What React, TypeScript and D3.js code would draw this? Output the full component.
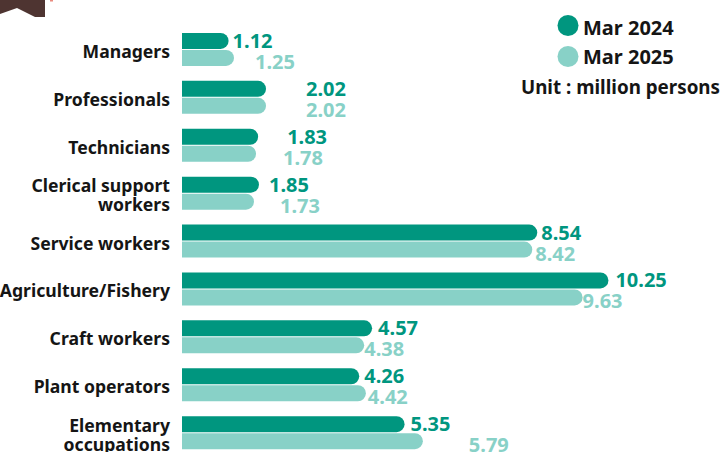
import React from "react";
import * as d3 from "d3";

const categories: string[][] = [
  ["Managers"],
  ["Professionals"],
  ["Technicians"],
  ["Clerical support", "workers"],
  ["Service workers"],
  ["Agriculture/Fishery"],
  ["Craft workers"],
  ["Plant operators"],
  ["Elementary", "occupations"],
];
const mar2024: number[] = [1.12, 2.02, 1.83, 1.85, 8.54, 10.25, 4.57, 4.26, 5.35];
const mar2025: number[] = [1.25, 2.02, 1.78, 1.73, 8.42, 9.63, 4.38, 4.42, 5.79];
const seriesNames: string[] = ["Mar 2024", "Mar 2025"];
const unitLabel = "Unit : million persons";

// label nudges (px right of bar end), as placed in the original
const nudge2024: number[] = [4, 40, 29, 10, 4, 7, 6, 5, 6];
const nudge2025: number[] = [21, 40, 27, 26, 3, 0, 0, 2, 46];

const W = 726;
const H = 452;
const DARK = "#00967f";
const LIGHT = "#88d1c7";
const TEXT = "#151515";
const FONT = "'Noto Sans', 'Lato', sans-serif";
const BAR_H = 16;

function barPath(x0: number, x1: number, y: number, h: number) {
  const r = Math.min(h / 2, Math.max(0, x1 - x0));
  return `M${x0},${y}H${x1 - r}A${r},${r} 0 0 1 ${x1},${y + r}V${y + h - r}A${r},${r} 0 0 1 ${x1 - r},${y + h}H${x0}Z`;
}

export default function App() {
  const x = d3.scaleLinear().domain([0, 13]).range([182, 182 + 41.6 * 13]);
  const keys = categories.map((c) => c.join(" "));
  const y = d3.scaleBand<string>().domain(keys).range([25.5, 25.5 + 47.9 * 9]).padding(0);

  return (
    <svg
      width={W}
      height={H}
      style={{ position: "absolute", left: 0, top: 0, background: "#fff" }}
      fontFamily={FONT}
    >
      <path d="M0,0H45V17H35L17,8L0,14Z" fill="#4e3431" />
      <rect x={50} y={0} width={3} height={1.5} fill="#e98a7e" />

      {keys.map((k, i) => {
        const c = (y(k) as number) + y.bandwidth() / 2;
        const topD = c - BAR_H - 0.5;
        const topL = c + 0.5;
        const lines = categories[i];
        const x0 = x(0);
        return (
          <g key={k}>
            <path d={barPath(x0, x(mar2024[i]), topD, BAR_H)} fill={DARK} />
            <path d={barPath(x0, x(mar2025[i]), topL, BAR_H)} fill={LIGHT} />
            <text
              x={x(mar2024[i]) + nudge2024[i]}
              y={topD + 15}
              fill={DARK}
              fontSize={20}
              fontWeight={700}
            >
              {mar2024[i].toFixed(2)}
            </text>
            <text
              x={x(mar2025[i]) + nudge2025[i]}
              y={topL + 19}
              fill={LIGHT}
              fontSize={20}
              fontWeight={700}
            >
              {mar2025[i].toFixed(2)}
            </text>
            {lines.map((ln, j) => (
              <text
                key={j}
                x={170}
                y={c + 8.5 + (j - (lines.length - 1) / 2) * 19}
                textAnchor="end"
                fill={TEXT}
                fontSize={17.6}
                fontWeight={700}
              >
                {ln}
              </text>
            ))}
          </g>
        );
      })}

      {seriesNames.map((s, i) => (
        <g key={s}>
          <circle cx={568} cy={25.5 + i * 31} r={10.5} fill={i === 0 ? DARK : LIGHT} />
          <text x={583} y={35 + i * 29} fontSize={20} fontWeight={700} fill={TEXT}>
            {s}
          </text>
        </g>
      ))}
      <text x={720} y={94} textAnchor="end" fontSize={18.8} fontWeight={700} fill={TEXT}>
        {unitLabel}
      </text>
    </svg>
  );
}
